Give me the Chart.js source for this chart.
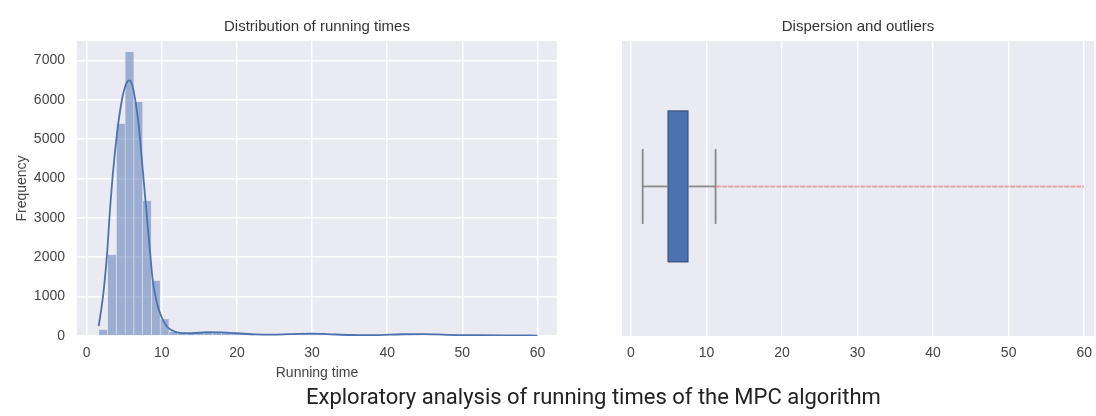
<!DOCTYPE html>
<html><head><meta charset="utf-8">
<script src="https://cdn.jsdelivr.net/npm/chart.js@4.4.1/dist/chart.umd.min.js"></script>
<style>
html,body{margin:0;padding:0;background:#fff;width:1096px;height:416px;overflow:hidden;position:relative;}
#c1{position:absolute;left:0;top:0;}
#c2{position:absolute;left:565px;top:0;}
#caption{position:absolute;left:306px;top:386px;font-family:Roboto,sans-serif;font-size:22px;color:#222;white-space:nowrap;line-height:1;}
</style></head><body>
<canvas id="c1" width="565" height="385"></canvas>
<canvas id="c2" width="545" height="385"></canvas>
<div id="caption">Exploratory analysis of running times of the MPC algorithm</div>
<script>
// ---- data ----
const binCenters = [2.20, 3.37, 4.54, 5.70, 6.87, 8.03, 9.20, 10.37, 11.53, 12.70,
  13.86, 15.03, 16.20, 17.36, 18.53, 19.69, 20.86, 22.03, 23.19, 24.36,
  25.52, 26.69, 27.86, 29.02, 30.19, 31.35, 32.52, 33.69, 34.85, 36.02,
  37.18, 38.35, 39.52, 40.68, 41.85, 43.01, 44.18, 45.35, 46.51, 47.68,
  48.84, 50.01, 51.18, 52.34, 53.51, 54.67, 55.84, 57.01, 58.17, 59.34];
const binCounts = [160, 2060, 5390, 7210, 5940, 3435, 1400, 425, 110, 80,
  70, 85, 100, 95, 90, 80, 70, 55, 45, 40,
  35, 40, 50, 60, 65, 60, 50, 40, 30, 25,
  20, 20, 25, 35, 45, 50, 55, 50, 40, 30,
  25, 20, 18, 15, 15, 12, 12, 10, 10, 10];
const kdeX = [1.6, 2.2, 2.7, 3.1, 3.6, 4.2, 4.8, 5.3, 5.7, 6.1, 6.5, 6.9, 7.4, 7.9, 8.4, 8.8, 9.4, 10.0, 10.6, 11.1, 12.4,
  14, 16, 18, 20, 22.5, 25, 28, 30, 32, 35, 38, 42, 45, 48, 52, 56, 60];
const kdeY = [250, 1050, 2060, 3200, 4350, 5390, 6100, 6420, 6490, 6350, 5950, 5390, 4350, 3270, 2200, 1400, 800, 470, 260, 170, 80,
  70, 95, 90, 70, 40, 35, 55, 60, 50, 25, 20, 45, 50, 30, 20, 15, 12];
const yTickValues = [0, 1000, 2000, 3000, 4000, 5000, 6000, 7000];
const xTickValues = [0, 10, 20, 30, 40, 50, 60];
// box plot: [lower whisker, Q1, median, Q3, upper whisker]
const boxStats = [1.55, 4.9, 6.1, 7.55, 11.2];
// outliers span (drawn as a dense row of points in the reference)
const outlierRange = [11.3, 60.0];

// ---- styling ----
const FONT = "'Liberation Sans', Arial, sans-serif";
Chart.defaults.font.family = FONT;
Chart.defaults.font.size = 14;
Chart.defaults.color = '#444';
const BG = '#eaeaf2';
const bgPlugin = {
  id: 'bg',
  beforeDraw(chart) {
    const {ctx, chartArea: a} = chart;
    ctx.save(); ctx.fillStyle = BG;
    ctx.fillRect(a.left, a.top, a.right - a.left, a.bottom - a.top);
    ctx.restore();
  }
};
const gridStyle = {color: '#ffffff', lineWidth: 1.5, drawTicks: false};
const setTicks = vals => scale => { scale.ticks = vals.map(v => ({value: v})); };
const plainLabel = v => String(v);

// ---- left: histogram + kde ----
new Chart(document.getElementById('c1'), {
  type: 'bar',
  data: {
    datasets: [
      {
        type: 'line',
        data: kdeX.map((x, i) => ({x, y: kdeY[i]})),
        borderColor: '#4c72b0', borderWidth: 1.8, pointRadius: 0,
        cubicInterpolationMode: 'monotone', fill: false, order: 0
      },
      {
        type: 'bar',
        data: binCenters.map((x, i) => ({x, y: binCounts[i]})),
        backgroundColor: 'rgba(76,114,176,0.5)',
        borderColor: 'rgba(234,234,242,0.85)',
        borderWidth: {left: 0.6, right: 0.6, top: 0},
        barPercentage: 1, categoryPercentage: 1, order: 1
      }
    ]
  },
  options: {
    responsive: false, animation: false,
    layout: {padding: {left: 0, right: 8, top: 0, bottom: 0}},
    plugins: {
      legend: {display: false}, tooltip: {enabled: false},
      title: {display: true, text: 'Distribution of running times', fullSize: false,
        color: '#333', font: {size: 15, weight: 'normal'}, padding: {top: 17.9, bottom: 5.1}}
    },
    scales: {
      x: {
        type: 'linear', min: -1.29, max: 62.6, offset: false,
        grid: {...gridStyle, offset: false}, border: {display: false},
        afterBuildTicks: setTicks(xTickValues),
        afterFit: s => { s.height = 49; },
        ticks: {padding: 9, color: '#444', callback: plainLabel},
        title: {display: true, text: 'Running time', color: '#444', font: {size: 14}, padding: {top: 0, bottom: 3.3}}
      },
      y: {
        type: 'linear', min: 0, max: 7490,
        grid: gridStyle, border: {display: false},
        afterBuildTicks: setTicks(yTickValues),
        afterFit: s => { s.width = 77; },
        ticks: {padding: 12, color: '#444', callback: plainLabel},
        title: {display: true, text: 'Frequency', color: '#444', font: {size: 14}, padding: {top: 13.8, bottom: 0}}
      }
    }
  },
  plugins: [bgPlugin]
});

// ---- right: box plot ----
const [wLo, q1, med, q3, wHi] = boxStats;
const boxHalf = 0.256, capHalf = 0.127;
const lineDs = (pts, color, width, extra) => Object.assign({
  data: pts.map(([x, y]) => ({x, y})), showLine: true, pointRadius: 0,
  borderColor: color, borderWidth: width, fill: false
}, extra || {});

new Chart(document.getElementById('c2'), {
  type: 'scatter',
  data: {
    datasets: [
      lineDs([[outlierRange[0], 0], [outlierRange[1], 0]], 'rgba(226,135,135,0.7)', 2, {borderDash: [5, 1]}),
      lineDs([[wLo, 0], [q1, 0]], '#8a8a8a', 1.8),
      lineDs([[q3, 0], [wHi, 0]], '#8a8a8a', 1.8),
      lineDs([[wLo, -capHalf], [wLo, capHalf]], '#8a8a8a', 1.8),
      lineDs([[wHi, -capHalf], [wHi, capHalf]], '#8a8a8a', 1.8),
      lineDs([[q1, -boxHalf], [q3, -boxHalf], [q3, boxHalf], [q1, boxHalf], [q1, -boxHalf]],
        'rgba(55,75,115,0.9)', 1.2, {fill: 'shape', backgroundColor: '#4c72b0'}),
      lineDs([[med, -boxHalf], [med, boxHalf]], 'rgba(50,68,105,0.95)', 1.8)
    ]
  },
  options: {
    responsive: false, animation: false,
    layout: {padding: {left: 57, right: 16, top: 0, bottom: 0}},
    plugins: {
      legend: {display: false}, tooltip: {enabled: false},
      title: {display: true, text: 'Dispersion and outliers', fullSize: false,
        color: '#333', font: {size: 15, weight: 'normal'}, padding: {top: 17.9, bottom: 5.1}}
    },
    scales: {
      x: {
        type: 'linear', min: -1.19, max: 61.3,
        grid: gridStyle, border: {display: false},
        afterBuildTicks: setTicks(xTickValues),
        afterFit: s => { s.height = 49; },
        ticks: {padding: 9, color: '#444', callback: plainLabel}
      },
      y: {type: 'linear', min: -0.507, max: 0.493, display: false}
    }
  },
  plugins: [bgPlugin]
});
</script>
</body></html>
